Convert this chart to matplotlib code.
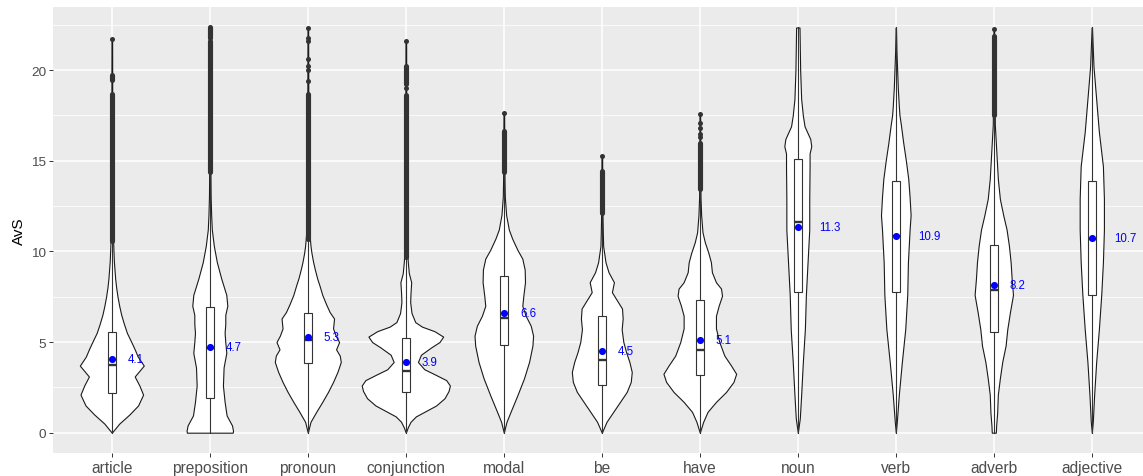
import numpy as np
import matplotlib
matplotlib.use("Agg")
import matplotlib.pyplot as plt
from matplotlib.transforms import offset_copy

plt.rcParams['font.family'] = ['Liberation Sans', 'DejaVu Sans']

categories = ["article", "preposition", "pronoun", "conjunction", "modal", "be",
              "have", "noun", "verb", "adverb", "adjective"]

# violin density profiles (value, relative density)
article_y = [0, 0.5, 1.0, 1.5, 2.1, 2.6, 3.1, 3.7, 4.2, 4.6, 5.0, 5.5, 6.0, 6.5, 7.0, 7.5,
             8.0, 8.5, 9.0, 9.5, 10.0, 11.0, 12.0, 14.0, 21.7]
article_d = [0, 22, 52, 78, 93, 82, 68, 95, 77, 68, 58, 45, 36, 28, 22, 17,
             13, 10, 8, 6, 5, 3, 2, 1.5, 1]

preposition_y = [0, 0.1, 0.4, 0.95, 1.7, 2.6, 3.6, 4.4, 5.0, 5.5, 6.0, 6.5, 7.0, 7.6,
                 8.5, 9.4, 10.3, 11.2, 12.0, 13.0, 14.0, 16.0, 22.35]
preposition_d = [68, 69, 66, 50, 44, 39, 41, 49, 46, 44, 46, 46, 52, 49,
                 34, 21, 12, 6, 4, 2.5, 2, 1.5, 1]

pronoun_y = [0, 0.6, 1.15, 1.7, 2.25, 2.8, 3.35, 3.9, 4.25, 4.6, 5.0, 5.35, 5.75, 6.3,
             6.65, 7.1, 7.6, 8.1, 8.5, 9.0, 9.4, 9.9, 10.3, 11.2, 12.0, 14.0, 22.3]
pronoun_d = [0, 8, 25, 43, 60, 75, 88, 98, 95, 84, 93, 83, 75, 78,
             65, 54, 43, 35, 28, 21, 16, 11, 8, 4, 3, 2, 1]

conjunction_y = [0, 0.3, 0.6, 0.9, 1.2, 1.5, 1.9, 2.3, 2.6, 2.9, 3.2, 3.5, 3.9, 4.3,
                 4.7, 5.0, 5.3, 5.6, 5.85, 6.1, 6.6, 7.2, 7.7, 8.3, 8.8, 9.4, 10.0,
                 11.0, 13.0, 21.6]
conjunction_d = [0, 6, 14, 30, 60, 90, 115, 127, 131, 120, 88, 55, 36, 45,
                 75, 100, 111, 85, 48, 28, 17, 13, 14, 16, 9, 6, 4,
                 3, 2, 1]

modal_y = [0, 0.6, 1.15, 2.05, 3.0, 3.9, 4.8, 5.35, 5.9, 6.45, 7.0, 7.55, 8.3, 9.0,
           9.6, 10.1, 10.7, 11.2, 12.0, 13.0, 14.0, 17.6]
modal_d = [0, 8, 20, 40, 60, 75, 85, 87, 80, 65, 55, 58, 63, 62,
           55, 40, 25, 15, 7, 3, 2, 1]

be_y = [0, 0.6, 1.15, 1.7, 2.25, 2.8, 3.35, 3.9, 4.45, 5.0, 5.7, 6.3, 6.85, 7.3,
        7.75, 8.3, 8.85, 9.4, 10.3, 11.0, 12.0, 15.3]
be_d = [0, 14, 34, 54, 74, 86, 89, 82, 72, 64, 59, 62, 60, 45,
        30, 36, 20, 11, 4, 3, 2, 1]

have_y = [0, 0.6, 1.15, 1.7, 2.25, 2.8, 3.25, 3.7, 4.25, 5.0, 5.75, 6.45, 7.0, 7.55,
          7.95, 8.3, 8.85, 9.4, 9.95, 10.5, 11.05, 12.0, 13.0, 17.6]
have_d = [0, 10, 23, 48, 78, 100, 108, 93, 73, 58, 48, 48, 56, 66,
          63, 48, 36, 33, 25, 15, 8, 4, 2, 1]

noun_y = [0, 0.4, 0.8, 2.1, 3.9, 5.7, 7.6, 9.4, 11.2, 12.9, 14.7, 15.4, 15.8, 16.2,
          16.9, 17.5, 18.4, 20.0, 22.35]
noun_d = [0, 3, 6, 10, 15, 21, 24, 29, 34, 34, 35, 35, 40, 37,
          20, 15, 10, 7, 5]

verb_y = [0, 0.6, 2.1, 3.9, 5.7, 7.6, 9.4, 11.2, 12.0, 13.0, 14.0, 15.0, 16.0, 17.0,
          17.5, 18.0, 19.0, 20.0, 21.0, 22.35]
verb_d = [0, 3, 9, 18, 28, 34, 36, 41, 44, 41, 37, 30, 22, 15,
          11, 9, 6, 4, 2, 0.5]

adverb_y = [0, 0.4, 1.1, 2.1, 3.0, 3.9, 4.8, 5.7, 6.65, 7.6, 8.5, 9.4, 10.3, 11.2,
            12.0, 12.9, 14.0, 15.0, 16.0, 17.0, 22.3]
adverb_d = [6, 7, 10, 12, 18, 25, 35, 40, 48, 57, 53, 50, 45, 38,
            28, 18, 12, 9, 6, 3, 1]

adjective_y = [0, 0.6, 2.1, 3.9, 5.7, 7.6, 9.4, 11.2, 12.9, 14.7, 16.6, 18.4, 20.2, 22.35]
adjective_d = [0, 3, 7, 13, 21, 28, 33, 36, 36, 33, 21, 13, 5, 0.5]

# boxplot statistics
q1 = [2.2, 1.93, 3.86, 2.24, 4.81, 2.64, 3.2, 7.75, 7.75, 5.55, 7.57]
medians = [3.75, 4.65, 5.09, 3.38, 6.32, 3.99, 4.54, 11.64, 10.85, 7.88, 10.7]
q3 = [5.55, 6.92, 6.59, 5.22, 8.67, 6.43, 7.33, 15.1, 13.9, 10.36, 13.86]
whisker_lo = [0, 0, 0, 0, 0, 0, 0, 0, 0, 0, 0]
whisker_hi = [10.6, 14.4, 10.7, 9.7, 14.4, 12.1, 13.4, 22.35, 22.35, 17.5, 22.35]
means = [4.08, 4.72, 5.27, 3.89, 6.61, 4.48, 5.12, 11.33, 10.87, 8.17, 10.73]

# outliers: dense stacks (from, to) and single points
article_dense = [(10.6, 18.7), (19.45, 19.75)]
article_points = [21.7]
preposition_dense = [(14.4, 21.6), (21.75, 22.35)]
preposition_points = []
pronoun_dense = [(10.7, 18.7)]
pronoun_points = [19.38, 20.02, 20.24, 20.6, 21.6, 21.75, 22.31]
conjunction_dense = [(9.7, 18.6), (19.25, 20.2)]
conjunction_points = [19.0, 21.6]
modal_dense = [(14.4, 16.66)]
modal_points = [17.63]
be_dense = [(12.1, 14.45)]
be_points = [15.26]
have_dense = [(13.45, 16.0)]
have_points = [16.3, 16.5, 16.8, 17.1, 17.6]
noun_dense = []
noun_points = []
verb_dense = []
verb_points = []
adverb_dense = [(17.5, 21.9)]
adverb_points = [22.28]
adjective_dense = []
adjective_points = []

violin_y = [article_y, preposition_y, pronoun_y, conjunction_y, modal_y, be_y,
            have_y, noun_y, verb_y, adverb_y, adjective_y]
violin_d = [article_d, preposition_d, pronoun_d, conjunction_d, modal_d, be_d,
            have_d, noun_d, verb_d, adverb_d, adjective_d]
dense_list = [article_dense, preposition_dense, pronoun_dense, conjunction_dense,
              modal_dense, be_dense, have_dense, noun_dense, verb_dense,
              adverb_dense, adjective_dense]
points_list = [article_points, preposition_points, pronoun_points, conjunction_points,
               modal_points, be_points, have_points, noun_points, verb_points,
               adverb_points, adjective_points]

W, H = 1143, 477
fig = plt.figure(figsize=(W / 100, H / 100), dpi=100)
ax = fig.add_axes([53 / W, 1 - 454 / H, 1 - 53 / W, (454 - 8) / H])
ax.set_facecolor('#EBEBEB')
for s in ax.spines.values():
    s.set_visible(False)

pos = np.arange(1, len(categories) + 1)
gmax = max(max(d) for d in violin_d)

vpstats = []
widths = []
for i in range(len(categories)):
    yy = np.array(violin_y[i], dtype=float)
    dd = np.array(violin_d[i], dtype=float)
    vpstats.append(dict(coords=yy, vals=dd, mean=means[i], median=medians[i],
                        min=yy.min(), max=yy.max()))
    widths.append(0.9 * dd.max() / gmax)

vp = ax.violin(vpstats, positions=pos, widths=widths, showmeans=False,
               showextrema=False, showmedians=False)
for b in vp['bodies']:
    b.set_facecolor('white')
    b.set_edgecolor('#1a1a1a')
    b.set_linewidth(0.8)
    b.set_alpha(1)
    b.set_zorder(2)

bxpstats = []
for i in range(len(categories)):
    bxpstats.append(dict(med=medians[i], q1=q1[i], q3=q3[i], whislo=whisker_lo[i],
                         whishi=whisker_hi[i], fliers=[]))
ax.bxp(bxpstats, positions=pos, widths=0.08, patch_artist=True, showfliers=False,
       showcaps=False, manage_ticks=False,
       boxprops=dict(facecolor='white', edgecolor='#333333', linewidth=0.8),
       whiskerprops=dict(color='#333333', linewidth=0.8),
       medianprops=dict(color='#333333', linewidth=1.7), zorder=3)

for i in range(len(categories)):
    for lo, hi in dense_list[i]:
        ax.plot([pos[i], pos[i]], [lo, hi], color='#333333', lw=3.7,
                solid_capstyle='round', zorder=4)
    if points_list[i]:
        ax.scatter([pos[i]] * len(points_list[i]), points_list[i], s=13,
                   color='#333333', zorder=4, linewidths=0)

ax.scatter(pos, means, s=26, color='blue', zorder=5, linewidths=0)

texts = []
for i in range(len(categories)):
    t = ax.text(pos[i], means[i], f"{means[i]:.1f}", color='blue', fontsize=8.3,
                ha='left', va='center', zorder=6)
    texts.append(t)

ax.set_xlim(0.4, 0.4 + (W - 53) / 98.0)
ax.set_ylim(-1.12, 23.48)
ax.set_xticks(pos)
ax.set_xticklabels(categories)
ax.set_yticks([0, 5, 10, 15, 20])
ax.set_yticks([2.5, 7.5, 12.5, 17.5, 22.5], minor=True)
ax.grid(which='major', color='white', linewidth=1.1)
ax.grid(which='minor', axis='y', color='white', linewidth=0.55)
ax.set_axisbelow(True)
ax.tick_params(axis='both', which='major', length=2.6, width=0.7, color='#333333',
               labelcolor='#4D4D4D', pad=2.2)
ax.tick_params(axis='x', labelsize=11.2)
ax.tick_params(axis='y', labelsize=9.7)
ax.tick_params(which='minor', length=0)
ax.set_ylabel('AvS', fontsize=11, color='black', labelpad=4)

fig.canvas.draw()
r = fig.canvas.get_renderer()
for t in texts:
    w = t.get_window_extent(r).width
    t.set_transform(offset_copy(ax.transData, fig=fig, x=w, y=0, units='dots'))

fig.savefig('out.png', dpi=100, facecolor='white')
